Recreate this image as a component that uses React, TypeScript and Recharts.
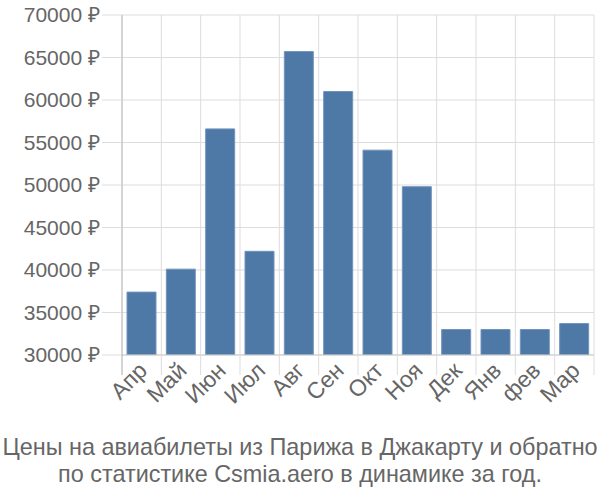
import React from "react";
import { BarChart, Bar, XAxis, YAxis, CartesianGrid } from "recharts";

const months = ["Апр", "Май", "Июн", "Июл", "Авг", "Сен", "Окт", "Ноя", "Дек", "Янв", "фев", "Мар"];
const prices = [37400, 40100, 56600, 42200, 65700, 61000, 54100, 49800, 33000, 33000, 33000, 33700];
const yTicks = [30000, 35000, 40000, 45000, 50000, 55000, 60000, 65000, 70000];
const titleLines = [
    "Цены на авиабилеты из Парижа в Джакарту и обратно",
    "по статистике Csmia.aero в динамике за год.",
];

const data = months.map((name, i) => ({ name, price: prices[i] }));

const CHART_W = 600;
const CHART_H = 420;
const MARGIN = { top: 15, right: 6, left: 0, bottom: 0 };
const Y_WIDTH = 122;
const PLOT_W = CHART_W - Y_WIDTH - MARGIN.right;
const BAND = PLOT_W / months.length;
const FONT = "'Liberation Sans', Arial, sans-serif";

const MonthTick = (props: any) => {
    const { x, y, payload, index } = props;
    const left = x - BAND / 2;
    const tx = x + 7;
    const ty = y + 17;
    return (
        <g>
            <line x1={left} x2={left} y1={y} y2={y + 20} stroke={index === 0 ? "#aaaaaa" : "#dddddd"} />
            {index === months.length - 1 && (
                <line x1={x + BAND / 2} x2={x + BAND / 2} y1={y} y2={y + 20} stroke="#dddddd" />
            )}
            <text
                x={tx}
                y={ty}
                textAnchor="end"
                transform={`rotate(-45 ${tx} ${ty})`}
                fill="#666666"
                fontSize={23}
                fontFamily={FONT}
            >
                {payload.value}
            </text>
        </g>
    );
};

export default function App() {
    return (
        <div style={{ position: "absolute", left: 0, top: 0, width: 600, height: 500, background: "#fff" }}>
            <BarChart width={CHART_W} height={CHART_H} data={data} margin={MARGIN} barCategoryGap={5}>
                <CartesianGrid
                    stroke="#dddddd"
                    strokeWidth={1}
                    verticalCoordinatesGenerator={({ offset }: any) =>
                        months.map((_, i) => offset.left + (i + 1) * (offset.width / months.length))
                    }
                />
                <XAxis
                    dataKey="name"
                    interval={0}
                    tickLine={false}
                    tickSize={0}
                    tickMargin={0}
                    height={CHART_H - MARGIN.top - 340}
                    axisLine={{ stroke: "#cccccc" }}
                    tick={<MonthTick />}
                />
                <YAxis
                    domain={[30000, 70000]}
                    ticks={yTicks}
                    interval={0}
                    width={Y_WIDTH}
                    tickSize={20}
                    tickMargin={2}
                    tickLine={{ stroke: "#dddddd" }}
                    axisLine={{ stroke: "#aaaaaa" }}
                    tickFormatter={(v: number) => `${v} ₽`}
                    tick={{ fill: "#666666", fontSize: 21, fontFamily: FONT }}
                    allowDataOverflow
                />
                <Bar
                    dataKey="price"
                    fill="#4e79a7"
                    stroke="#7194bd"
                    strokeWidth={1}
                    isAnimationActive={false}
                />
            </BarChart>
            <div
                style={{
                    position: "absolute",
                    left: 0,
                    top: 434,
                    width: 600,
                    textAlign: "center",
                    fontFamily: FONT,
                    fontSize: 23.4,
                    lineHeight: "27px",
                    color: "#666666",
                    whiteSpace: "nowrap",
                }}
            >
                {titleLines.map((t) => (
                    <div key={t}>{t}</div>
                ))}
            </div>
        </div>
    );
}
